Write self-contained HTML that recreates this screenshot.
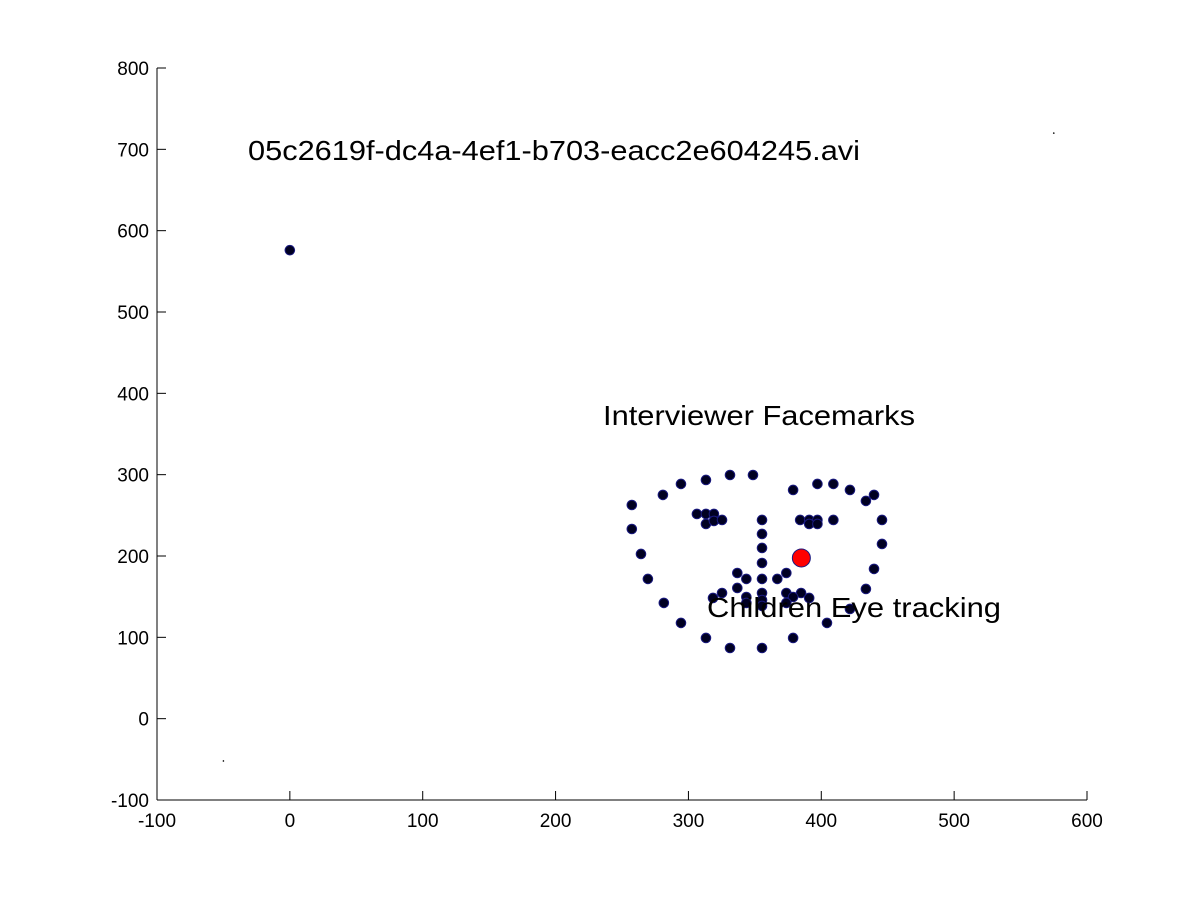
<!DOCTYPE html>
<html><head><meta charset="utf-8"><style>
body{margin:0;background:#fff;}
svg text{font-family:"Liberation Sans",Arial,sans-serif;fill:#000;}
</style></head><body>
<svg id="chart" width="1201" height="900" viewBox="0 0 1201 900" xmlns="http://www.w3.org/2000/svg">
<rect width="1201" height="900" fill="#fff"/>
<g id="axes"></g>
<g id="marks"></g>
<text x="248" y="160" font-size="28" textLength="612" lengthAdjust="spacingAndGlyphs">05c2619f-dc4a-4ef1-b703-eacc2e604245.avi</text>
<text x="603" y="425" font-size="28" textLength="312" lengthAdjust="spacingAndGlyphs">Interviewer Facemarks</text>
<text x="707" y="617" font-size="28" textLength="294" lengthAdjust="spacingAndGlyphs">Children Eye tracking</text>
</svg>
<script>
const xTicks=[-100,0,100,200,300,400,500,600];
const yTicks=[-100,0,100,200,300,400,500,600,700,800];
const faceX=[257.4,257.4,264.3,269.5,281.5,294.4,313.2,331.3,355.4,378.8,404.3,421.6,433.6,439.7,445.7,445.7,
280.8,294.4,313.2,331.3,348.6, 378.8,397.1,409.1,421.6,433.6,439.7,
306.4,313.2,319.2,313.2,319.2,325.3, 384.1,390.9,397.1,390.9,397.1,409.1,
355.4,355.4,355.4,355.4,336.8,343.6,355.4,366.9,373.7,
336.8,325.3,318.5,343.6,355.4,373.7,384.8,378.8,390.9,355.4,343.6,373.7,355.4,
0];
const faceY=[262.7,233.2,202.5,171.8,142.3,117.7,99.2,86.9,86.9,99.2,117.7,134.9,159.5,184.1,214.8,244.3,
275.1,288.6,293.5,299.6,299.6, 281.2,288.6,288.6,281.2,267.7,275.1,
251.7,251.7,251.7,239.4,243.1,244.3, 244.3,244.3,244.3,239.4,239.4,244.3,
244.3,227.1,209.9,191.4,179.1,171.8,171.8,171.8,179.1,
160.7,154.5,148.4,149.6,154.5,154.5,154.5,149.6,148.4,145.9,142.3,142.3,138.6,
576];
const eyeX=[385];
const eyeY=[197.6];
const dotsX=[-50,575];
const dotsY=[-52,720];
const X0=157,X1=1087,Y0=800,Y1=68;
const sx=v=>X0+(v-(-100))/700*(X1-X0);
const sy=v=>Y0-(v-(-100))/900*(Y0-Y1);
const NS="http://www.w3.org/2000/svg";
const axes=document.getElementById('axes'),marks=document.getElementById('marks');
function mk(t,a,p){const e=document.createElementNS(NS,t);for(const k in a)e.setAttribute(k,a[k]);p.appendChild(e);return e;}
let l=mk('line',{x1:X0,y1:Y0,x2:X1,y2:Y0,stroke:'#000','stroke-width':1},axes);

l=mk('line',{x1:X0,y1:Y0,x2:X0,y2:Y1,stroke:'#000','stroke-width':1},axes);

xTicks.forEach(v=>{const x=sx(v);
 const t=mk('line',{x1:x,y1:Y0,x2:x,y2:Y0-9,stroke:'#000'},axes);
 
 const tx=mk('text',{x:x,y:Y0+27,'font-size':19,'text-anchor':'middle'},axes);tx.textContent=v;
 });
yTicks.forEach(v=>{const y=sy(v);
 const t=mk('line',{x1:X0,y1:y,x2:X0+9,y2:y,stroke:'#000'},axes);
 
 const tx=mk('text',{x:X0-8,y:y+7,'font-size':19,'text-anchor':'end'},axes);tx.textContent=v;
 });
faceX.forEach((v,i)=>{const c=mk('circle',{cx:sx(v),cy:sy(faceY[i]),r:4.8,fill:'#000022',stroke:'#1a1a80','stroke-width':1},marks);
 });
eyeX.forEach((v,i)=>{const c=mk('circle',{cx:sx(v),cy:sy(eyeY[i]),r:9,fill:'#ff0000',stroke:'#1a1a80','stroke-width':1},marks);
 });
dotsX.forEach((v,i)=>{const c=mk('circle',{cx:sx(v),cy:sy(dotsY[i]),r:0.8,fill:'#000'},marks);
 });
</script>
</body></html>
